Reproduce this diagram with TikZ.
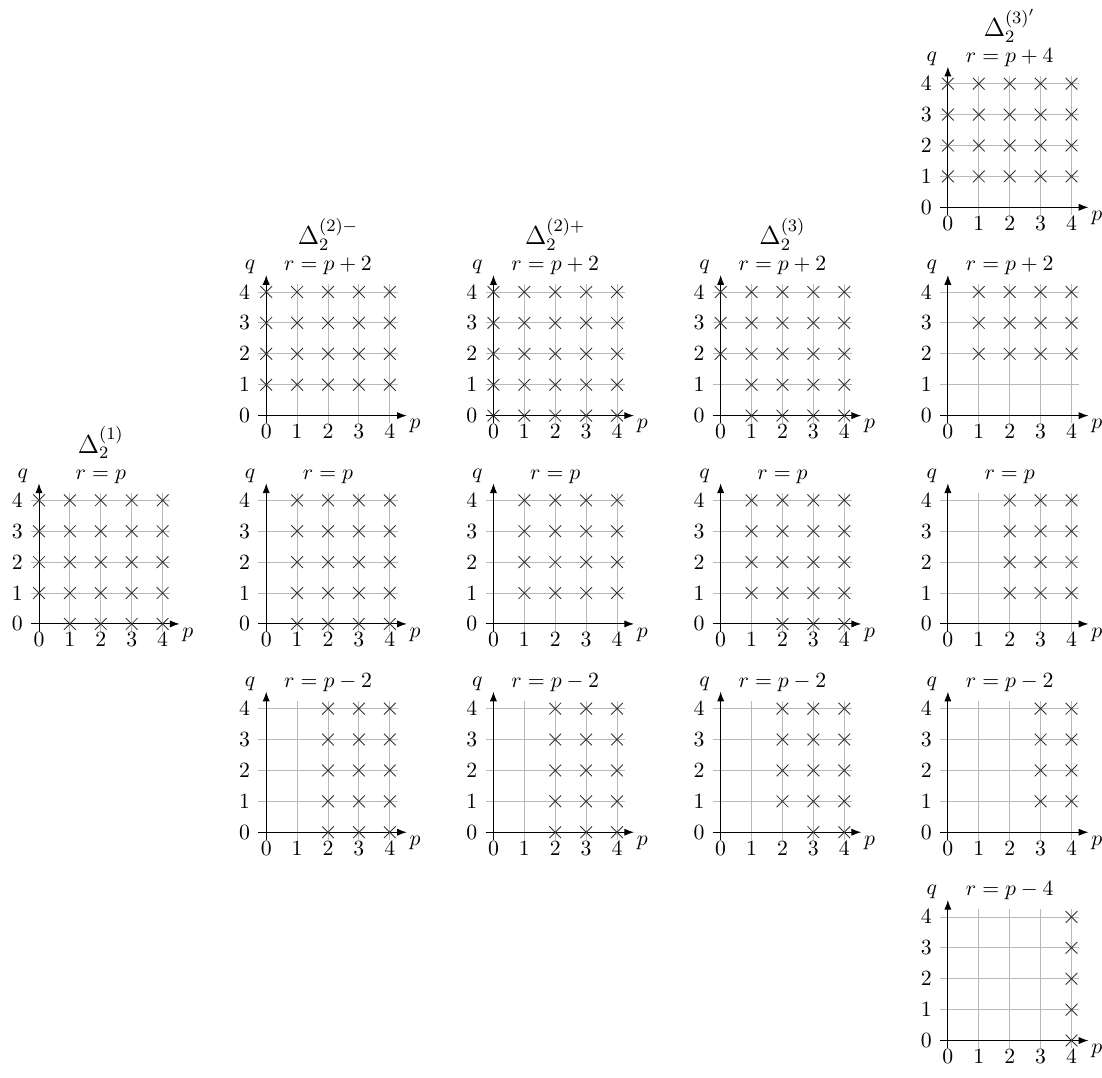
\documentclass[tikz,border=0pt]{standalone}
\usetikzlibrary{arrows.meta}
\tikzset{
  every picture/.style={x=0.5cm,y=0.5cm},
  gridline/.style={black!28, line width=0.4pt},
  axisline/.style={black, line width=0.45pt, -{Latex[length=4.5pt,width=3.3pt]}},
  crossmark/.style={black!80, line width=0.4pt},
  ticklab/.style={inner sep=0pt},
  axlab/.style={inner sep=0pt, anchor=base},
  rlab/.style={inner sep=0pt, anchor=base},
  titlelab/.style={inner sep=0pt, anchor=base, font=\large}
}
\newcommand\crs[4]{\foreach \a in {#1,...,#2}{\foreach \b in {#3,...,#4}{\draw[crossmark] (\a,\b) +(-0.19,-0.19) -- +(0.19,0.19) +(-0.19,0.19) -- +(0.19,-0.19);}}}
\newcommand\spplot[4]{%
  \begin{scope}[shift={(#1,#2)}]
    \foreach \i in {0,...,4}{%
      \draw[gridline] (\i,-0.25) -- (\i,4.25);
      \draw[gridline] (-0.25,\i) -- (4.25,\i);
    }
    \draw[axisline] (-0.25,0) -- (4.55,0);
    \draw[axisline] (0,-0.25) -- (0,4.55);
    \foreach \i in {0,...,4}{%
      \node[ticklab] at (\i,-0.52) {$\i$};
      \node[ticklab] at (-0.7,\i) {$\i$};
    }
    \node[axlab] at (-0.52,4.72) {$q$};
    \node[axlab] at (4.82,-0.43) {$p$};
    \node[rlab] at (2,4.69) {$#3$};
    #4
  \end{scope}}
\begin{document}
\begin{tikzpicture}
\useasboundingbox (-1.262,-28.145) rectangle (34.40,6.709);
% column x: 0, 7.353, 14.706, 22.059, 29.412 ; row y: 0, -6.741, -13.482, -20.223, -26.964
% Delta_2^(1)
\spplot{0}{-13.482}{r=p}{\crs{1}{4}{0}{4}\crs{0}{0}{1}{4}}
\node[titlelab] (t1) at (2.0,-13.482+5.53) {$\Delta_2^{(1)}$};
% Delta_2^(2)-
\spplot{7.353}{-6.741}{r=p+2}{\crs{0}{4}{1}{4}}
\spplot{7.353}{-13.482}{r=p}{\crs{1}{4}{0}{4}}
\spplot{7.353}{-20.223}{r=p-2}{\crs{2}{4}{0}{4}}
\node[titlelab] (t2) at (7.353+2.0,-6.741+5.53) {$\Delta_2^{(2)-}$};
% Delta_2^(2)+
\spplot{14.706}{-6.741}{r=p+2}{\crs{0}{4}{0}{4}}
\spplot{14.706}{-13.482}{r=p}{\crs{1}{4}{1}{4}}
\spplot{14.706}{-20.223}{r=p-2}{\crs{2}{4}{0}{4}}
\node[titlelab] (t3) at (14.706+2.0,-6.741+5.53) {$\Delta_2^{(2)+}$};
% Delta_2^(3)
\spplot{22.059}{-6.741}{r=p+2}{\crs{0}{4}{2}{4}\crs{1}{4}{0}{1}}
\spplot{22.059}{-13.482}{r=p}{\crs{1}{4}{1}{4}\crs{2}{4}{0}{0}}
\spplot{22.059}{-20.223}{r=p-2}{\crs{2}{4}{1}{4}\crs{3}{4}{0}{0}}
\node[titlelab] (t4) at (22.059+2.0,-6.741+5.53) {$\Delta_2^{(3)}$};
% Delta_2^(3)'
\spplot{29.412}{0}{r=p+4}{\crs{0}{4}{1}{4}}
\spplot{29.412}{-6.741}{r=p+2}{\crs{1}{4}{2}{4}}
\spplot{29.412}{-13.482}{r=p}{\crs{2}{4}{1}{4}}
\spplot{29.412}{-20.223}{r=p-2}{\crs{3}{4}{1}{4}}
\spplot{29.412}{-26.964}{r=p-4}{\crs{4}{4}{0}{4}}
\node[titlelab] (t5) at (29.412+2.0,5.53) {$\Delta_2^{(3)'}$};
\end{tikzpicture}
\end{document}
